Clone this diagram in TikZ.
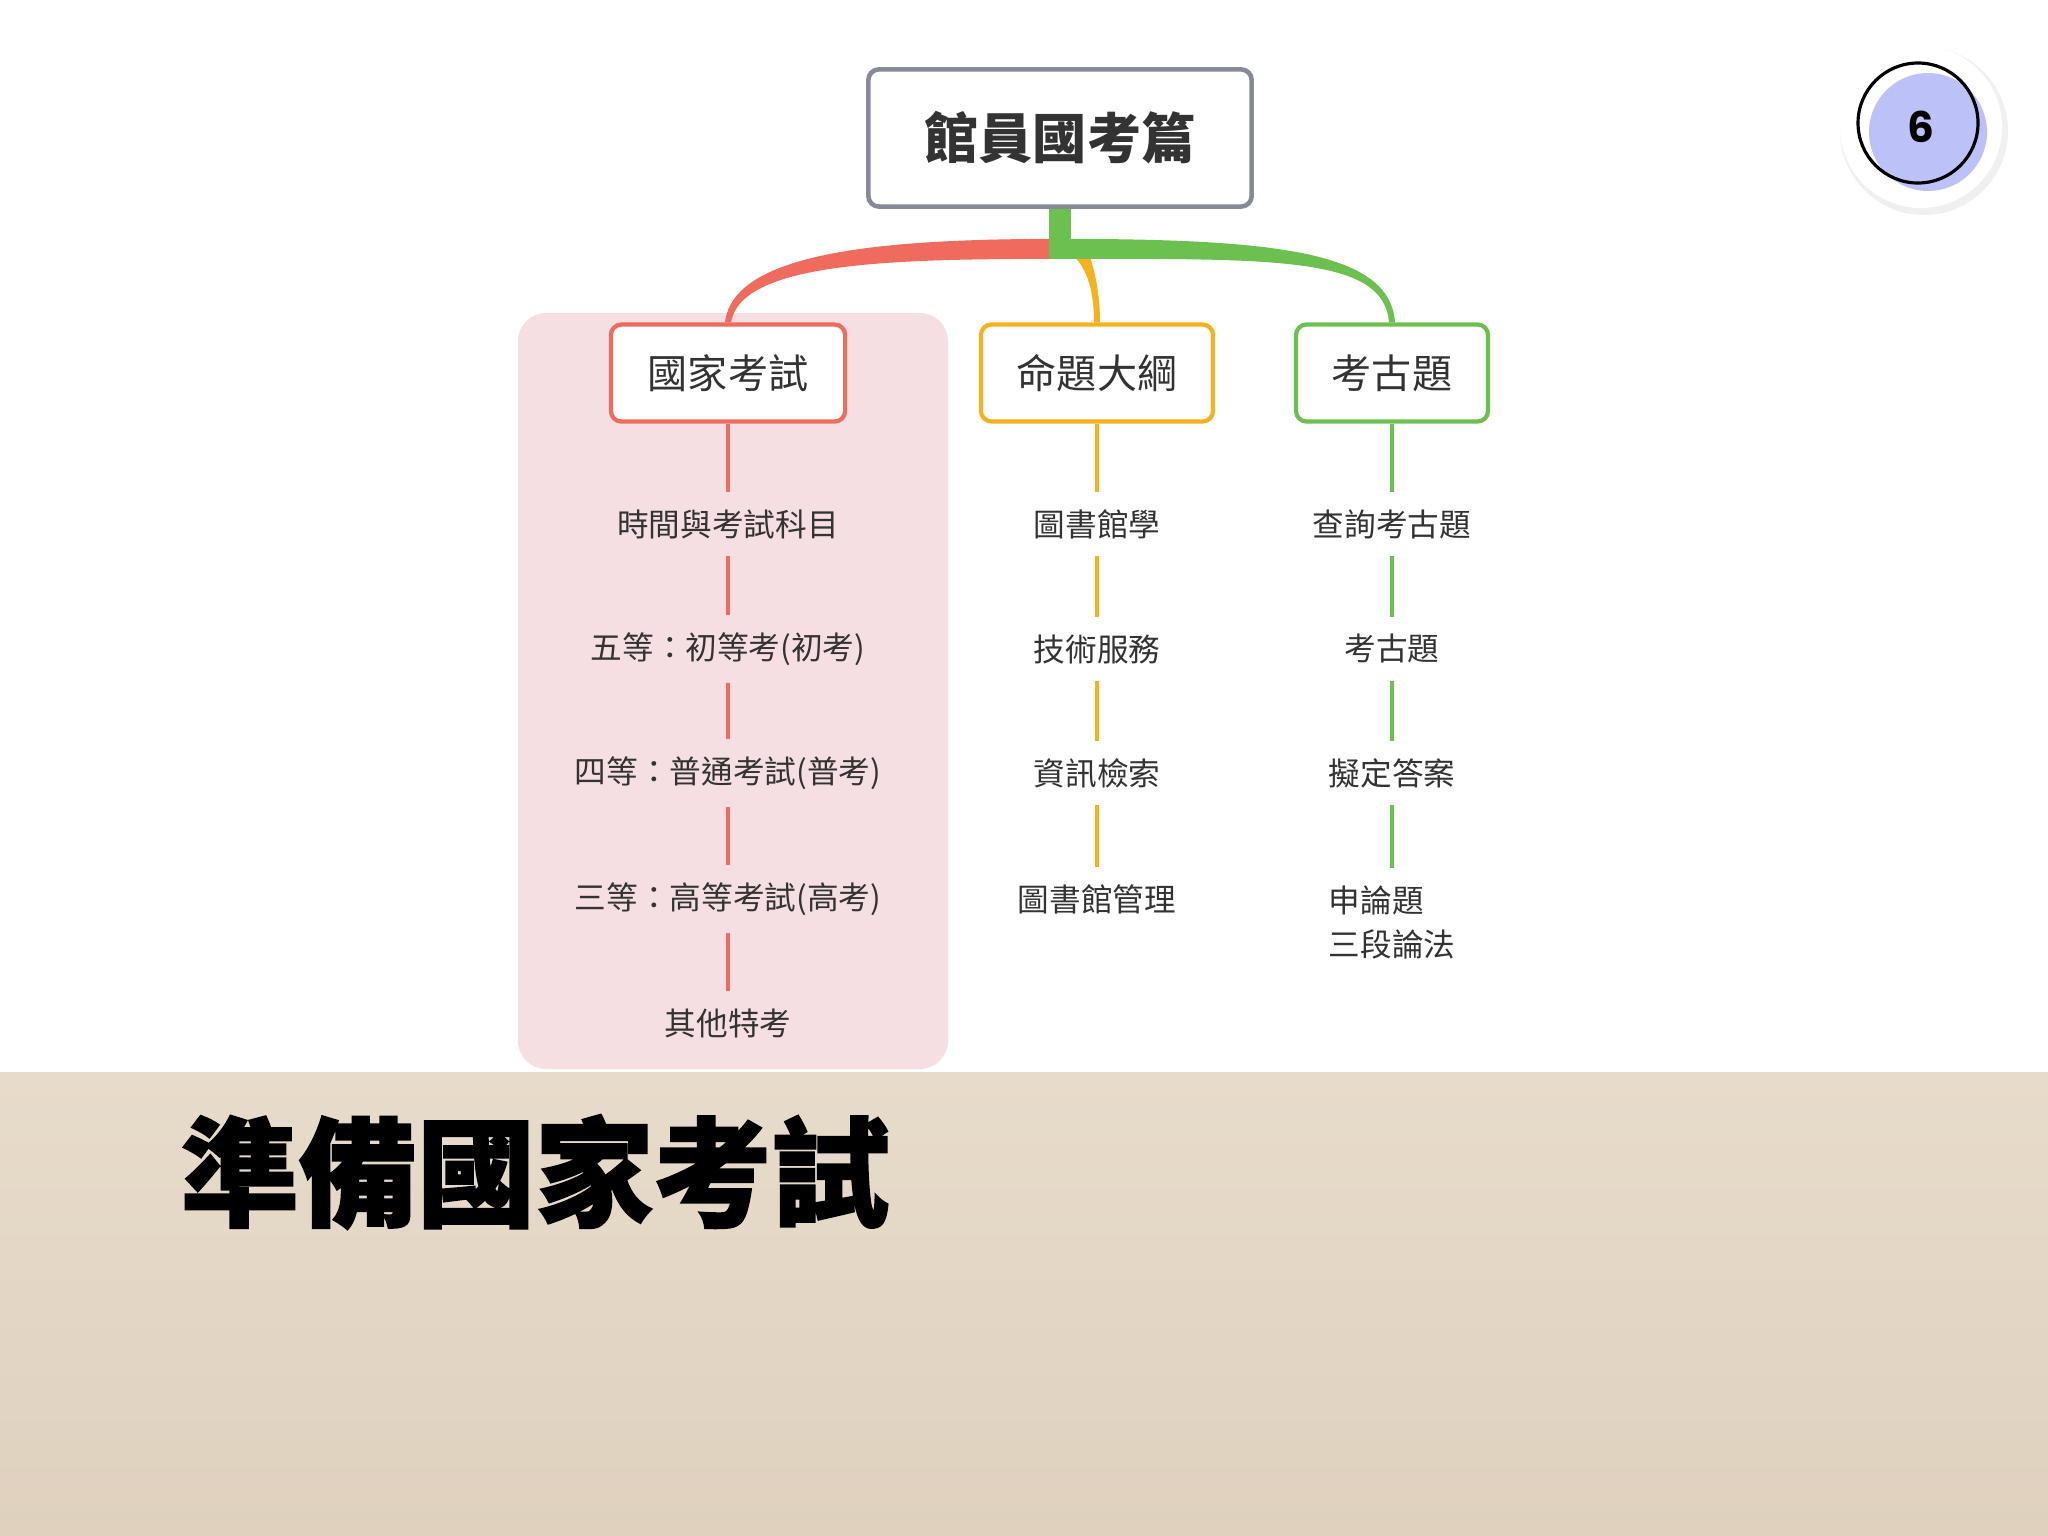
\documentclass[tikz,border=0pt]{standalone}
\usepackage{fontspec}
\newfontfamily\cjk{Noto Sans CJK TC}
\newfontfamily\cjkheavy[BoldFeatures={FakeBold=1.5}]{Noto Sans CJK TC}
\newfontfamily\numfont{Poppins}
\usetikzlibrary{calc}

\definecolor{examred}{HTML}{EE6B5D}
\definecolor{outlineorange}{HTML}{F5B21E}
\definecolor{pastgreen}{HTML}{6CC04F}
\definecolor{rootgray}{HTML}{868998}
\definecolor{textgray}{HTML}{333333}
\definecolor{pinkzone}{HTML}{F6DFE2}
\definecolor{paperlight}{HTML}{E7DBCB}
\definecolor{paperdark}{HTML}{DFD1BE}
\definecolor{badgeblue}{HTML}{BCC2F7}

\tikzset{
  rootbox/.style={draw=rootgray, line width=1.3pt, rounded corners=3pt, fill=white,
    minimum width=109pt, minimum height=39pt, text=textgray,
    font=\cjk\bfseries\fontsize{15.4}{18}\selectfont},
  branchbox/.style={draw=#1, line width=1.2pt, rounded corners=3pt, fill=white,
    minimum height=27.6pt, text=textgray, font=\cjk\fontsize{11.4}{14}\selectfont},
  leaf/.style={text=textgray, font=\cjk\fontsize{9}{12.5}\selectfont,
    inner xsep=2pt, inner ysep=4.8pt},
  twig/.style={draw=#1, line width=1.1pt}
}

\begin{document}
\begin{tikzpicture}[x=0.01cm,y=-0.01cm]
  \useasboundingbox (0,0) rectangle (2048,1536);
  \fill[white] (0,0) rectangle (2048,1536);

  % pink zone behind the first branch
  \fill[pinkzone, rounded corners=8pt] (518,313) rectangle (948,1069);

  % paper band at the bottom
  \shade[top color=paperlight, bottom color=paperdark] (0,1072) rectangle (2048,1536);
  \node[font=\cjkheavy\bfseries\fontsize{33.6}{38}\selectfont, anchor=west, inner sep=0pt] (title) at (180,1172) {準備國家考試};

  % badge
  \fill[black!6] (1924,131) circle[radius=84];
  \fill[white] (1921,127) circle[radius=81];
  \fill[badgeblue] (1928,132) circle[radius=59];
  \draw[black, line width=0.9pt] (1918,123) circle[radius=60];
  \node[font=\numfont\bfseries\fontsize{12}{14}\selectfont] (page) at (1921,127) {6};

  % mind map
  \node[rootbox] (root) at (1060,138) {館員國考篇};
  \node[branchbox=examred, minimum width=66.6pt] (exam) at (728,373) {國家考試};
  \node[branchbox=outlineorange, minimum width=66pt] (outline) at (1097,373) {命題大綱};
  \node[branchbox=pastgreen, minimum width=54.6pt] (past) at (1392,373) {考古題};

  % tapered branches
  \fill[outlineorange] ($(root.south)+(6,40)$) .. controls +(20,15) and +(0,-35) .. ($(outline.north)+(-3,0)$)
    -- ($(outline.north)+(3,0)$) .. controls +(0,-40) and +(2,10) .. ($(root.south)+(28,40)$) -- cycle;
  \fill[examred] ($(root.south)+(0,30)$) .. controls +(-180,0) and +(8,-70) .. ($(exam.north)+(-3,0)$)
    -- ($(exam.north)+(3,0)$) .. controls +(10,-60) and +(-170,0) .. ($(root.south)+(0,50)$) -- cycle;
  \fill[pastgreen] ($(root.south)+(0,30)$) .. controls +(220,0) and +(-5,-70) .. ($(past.north)+(3,0)$)
    -- ($(past.north)+(-3,0)$) .. controls +(-5,-66) and +(215,0) .. ($(root.south)+(0,50)$) -- cycle;
  \fill[pastgreen] ($(root.south)+(-11,0)$) rectangle ($(root.south)+(11,50)$);

  % exam branch
  \node[leaf] (e1) at (728,524) {時間與考試科目};
  \node[leaf] (e2) at (728,649) {五等：初等考(初考)};
  \node[leaf] (e3) at (728,773) {四等：普通考試(普考)};
  \node[leaf] (e4) at (728,899) {三等：高等考試(高考)};
  \node[leaf] (e5) at (728,1023) {其他特考};
  \draw[twig=examred] (exam) -- (e1);
  \draw[twig=examred] (e1) -- (e2);
  \draw[twig=examred] (e2) -- (e3);
  \draw[twig=examred] (e3) -- (e4);
  \draw[twig=examred] (e4) -- (e5);

  % outline branch
  \node[leaf] (o1) at (1097,524) {圖書館學};
  \node[leaf] (o2) at (1097,649) {技術服務};
  \node[leaf] (o3) at (1097,773) {資訊檢索};
  \node[leaf] (o4) at (1097,899) {圖書館管理};
  \draw[twig=outlineorange] (outline) -- (o1);
  \draw[twig=outlineorange] (o1) -- (o2);
  \draw[twig=outlineorange] (o2) -- (o3);
  \draw[twig=outlineorange] (o3) -- (o4);

  % past papers branch
  \node[leaf] (p1) at (1392,524) {查詢考古題};
  \node[leaf] (p2) at (1392,649) {考古題};
  \node[leaf] (p3) at (1392,773) {擬定答案};
  \node[leaf, align=left, anchor=north] (p4) at (1392,868) {申論題\\三段論法};
  \draw[twig=pastgreen] (past) -- (p1);
  \draw[twig=pastgreen] (p1) -- (p2);
  \draw[twig=pastgreen] (p2) -- (p3);
  \draw[twig=pastgreen] (p3) -- (p4);
\end{tikzpicture}
\end{document}
